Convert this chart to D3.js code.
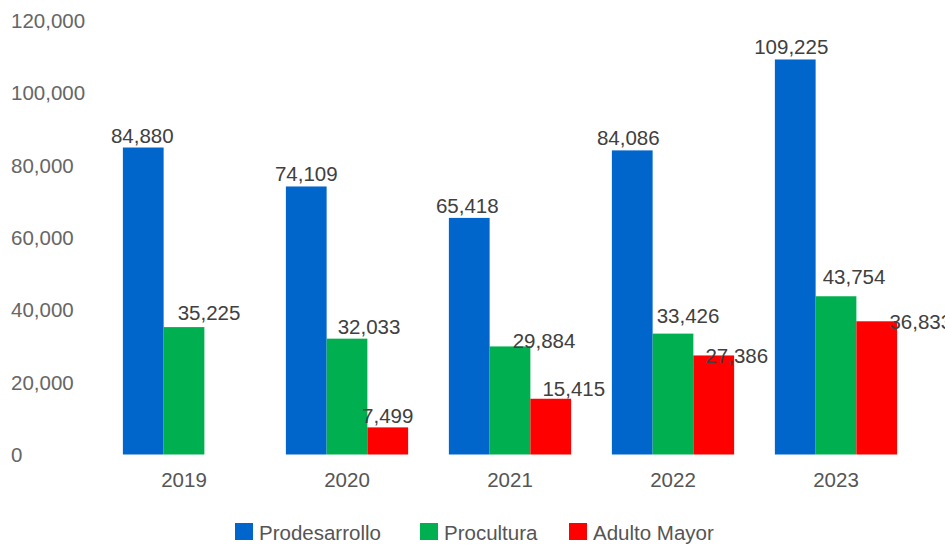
<!DOCTYPE html>
<html>
<head>
<meta charset="utf-8">
<script src="https://cdn.jsdelivr.net/npm/d3@7"></script>
<style>
  html, body { margin: 0; padding: 0; background: #ffffff; }
  svg { display: block; font-family: "Liberation Sans", Arial, sans-serif; }
</style>
</head>
<body>
<svg id="chart" width="945" height="545"></svg>
<script>
// ---- data ----
const years = ["2019", "2020", "2021", "2022", "2023"];
const seriesNames = ["Prodesarrollo", "Procultura", "Adulto Mayor"];
const prodesarrollo = [84880, 74109, 65418, 84086, 109225];
const procultura = [35225, 32033, 29884, 33426, 43754];
const adultoMayor = [null, 7499, 15415, 27386, 36833];
const yTicks = [0, 20000, 40000, 60000, 80000, 100000, 120000];

// ---- styling / layout (not data) ----
const colors = ["#0066cc", "#00b050", "#ff0000"];
// label nudges [dx, dy] per series per year (collision avoidance like the original)
const labelNudge = [
  [[-1, 0], [0, 0], [-2, 0], [-4, 0], [-4, 0]],
  [[25, -2], [22, 0], [34, 7], [15, -6], [18, -7]],
  [[0, 0], [0, 1], [23, 2], [23, 13], [44, 13]]
];

const allSeries = [prodesarrollo, procultura, adultoMayor];
const svg = d3.select("#chart");

const x0 = d3.scaleBand().domain(years).range([102.5, 917.5]).padding(0);
const bw = x0.bandwidth();
const x1 = d3.scaleBand().domain(seriesNames).range([bw * 0.125, bw * 0.875]).padding(0);
const y = d3.scaleLinear().domain([0, 120000]).range([454.5, 20.5]);

const fmt = d3.format(",");

// y axis labels
svg.append("g").selectAll("text").data(yTicks).join("text")
  .attr("x", 11)
  .attr("y", d => y(d))
  .attr("dy", "0.36em")
  .attr("font-size", 20.5)
  .attr("fill", "#666666")
  .text(d => fmt(d));

// x axis labels
svg.append("g").selectAll("text").data(years).join("text")
  .attr("x", d => x0(d) + bw / 2)
  .attr("y", 480)
  .attr("dy", "0.36em")
  .attr("text-anchor", "middle")
  .attr("font-size", 20.5)
  .attr("fill", "#555555")
  .text(d => d);

// bars
const barsData = [];
allSeries.forEach((vals, si) => {
  vals.forEach((v, yi) => {
    if (v !== null && v !== undefined) barsData.push({ si, yi, v });
  });
});

svg.append("g").selectAll("rect").data(barsData).join("rect")
  .attr("x", d => x0(years[d.yi]) + x1(seriesNames[d.si]))
  .attr("y", d => y(d.v))
  .attr("width", x1.bandwidth())
  .attr("height", d => y(0) - y(d.v))
  .attr("fill", d => colors[d.si]);

// value labels
svg.append("g").selectAll("text").data(barsData).join("text")
  .attr("x", d => x0(years[d.yi]) + x1(seriesNames[d.si]) + x1.bandwidth() / 2 + labelNudge[d.si][d.yi][0])
  .attr("y", d => y(d.v) - 5 + labelNudge[d.si][d.yi][1])
  .attr("text-anchor", "middle")
  .attr("font-size", 20.5)
  .attr("fill", "#404040")
  .text(d => fmt(d.v));

// legend
const legendX = [235, 420, 569];
const lg = svg.append("g").selectAll("g").data(seriesNames).join("g")
  .attr("transform", (d, i) => `translate(${legendX[i]},0)`);
lg.append("rect")
  .attr("x", 0).attr("y", 523).attr("width", 18).attr("height", 17)
  .attr("fill", (d, i) => colors[i]);
lg.append("text")
  .attr("x", 24).attr("y", 539.5)
  .attr("font-size", 20.5)
  .attr("fill", "#555555")
  .text(d => d);
</script>
</body>
</html>
